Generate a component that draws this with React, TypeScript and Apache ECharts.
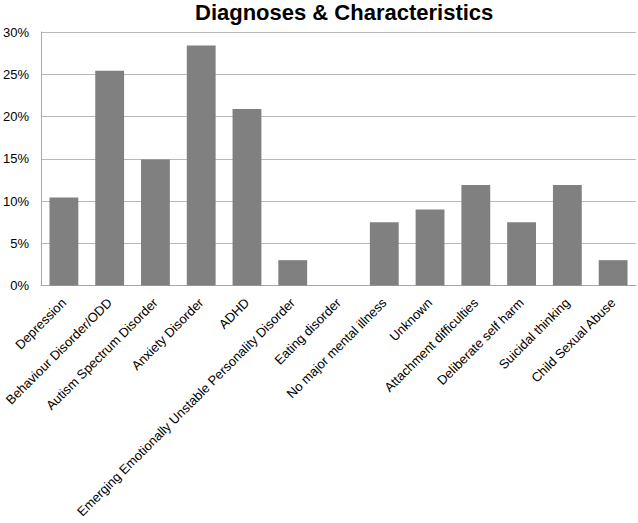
import React, { useEffect, useRef } from "react";
import * as echarts from "echarts";

const categories = [
  "Depression",
  "Behaviour Disorder/ODD",
  "Autism Spectrum Disorder",
  "Anxiety Disorder",
  "ADHD",
  "Emerging Emotionally Unstable Personality Disorder",
  "Eating disorder",
  "No major mental illness",
  "Unknown",
  "Attachment difficulties",
  "Deliberate self harm",
  "Suicidal thinking",
  "Child Sexual Abuse",
];

const values = [10.4, 25.4, 14.9, 28.4, 20.9, 3.0, 0, 7.5, 9.0, 11.9, 7.5, 11.9, 3.0];

const yTicks = [0, 5, 10, 15, 20, 25, 30];

export default function App() {
  const ref = useRef<HTMLDivElement>(null);
  useEffect(() => {
    if (!ref.current) return;
    const chart = echarts.init(ref.current, undefined, { renderer: "svg" });
    const font = "'Liberation Sans', Arial, sans-serif";
    chart.setOption({
      animation: false,
      title: {
        text: "Diagnoses & Characteristics",
        left: 195,
        top: 1,
        padding: 0,
        textStyle: { fontFamily: font, fontWeight: "bold", fontSize: 22, color: "#000" },
      },
      grid: { left: 40, right: 2, top: 32, bottom: 237.5, containLabel: false },
      xAxis: {
        type: "category",
        data: categories,
        axisLine: { lineStyle: { color: "#a8a8a8", width: 1 } },
        axisTick: { show: false },
        axisLabel: {
          interval: 0,
          rotate: 45,
          fontFamily: font,
          fontSize: 13,
          color: "#000",
          margin: 15,
        },
      },
      yAxis: {
        type: "value",
        min: yTicks[0],
        max: yTicks[yTicks.length - 1],
        interval: 5,
        axisLine: { show: true, lineStyle: { color: "#a8a8a8", width: 1 } },
        axisTick: { show: false },
        splitLine: { lineStyle: { color: "#b8b8b8", width: 1 } },
        axisLabel: {
          formatter: (v: number) => v + "%",
          fontFamily: font,
          fontSize: 13,
          color: "#000",
          margin: 12,
        },
      },
      series: [
        {
          type: "bar",
          data: values,
          barCategoryGap: "37%",
          itemStyle: { color: "#808080" },
        },
      ],
    });
    return () => chart.dispose();
  }, []);
  return (
    <div
      ref={ref}
      style={{ position: "absolute", left: 0, top: 0, width: 638, height: 523 }}
    />
  );
}
